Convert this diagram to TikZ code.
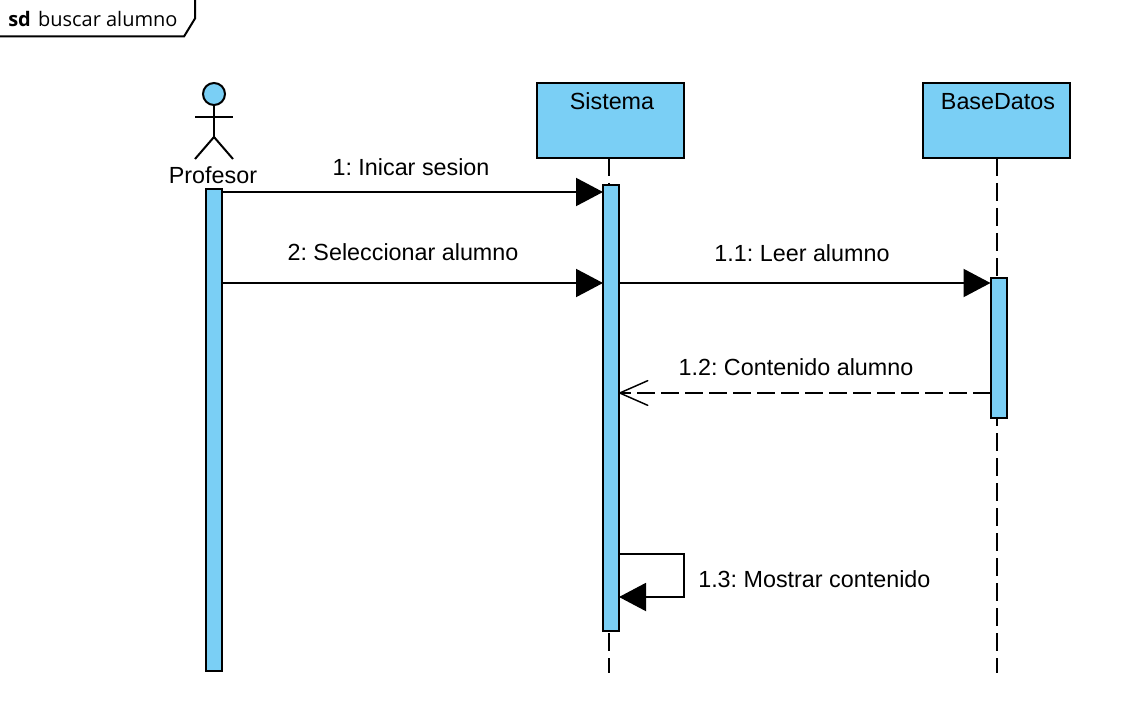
\documentclass[tikz,border=0pt]{standalone}
\usepackage{fontspec}
\setmainfont{Liberation Sans}
\newfontfamily\framefont{Open Sans}
\frenchspacing
\usetikzlibrary{arrows.meta}
\definecolor{umlblue}{RGB}{122,207,245}
\tikzset{
  umlline/.style={line width=1.5pt,black},
  lifebox/.style={draw,umlline,fill=umlblue,minimum width=110.25pt,minimum height=56.25pt,outer sep=0pt,inner sep=0pt},
  actbar/.style={draw,umlline,fill=umlblue,minimum width=12pt,outer sep=0pt,inner sep=0pt},
  lifeline/.style={umlline,dash pattern=on 13.5pt off 5.25pt},
  msg/.style={umlline,-{Triangle[length=20.25pt,width=21pt,fill=black]}},
  reply/.style={umlline,dash pattern=on 13pt off 5pt,-{Straight Barb[length=21pt,width=18.5pt,line width=1.1pt,round=false]}},
  lbl/.style={font=\fontsize{17.5pt}{20pt}\selectfont,inner sep=0pt,anchor=base}
}
\begin{document}
\begin{tikzpicture}[x=0.75pt,y=-0.75pt]
\useasboundingbox (0,0) rectangle (1141,709);
\fill[white] (0,0) rectangle (1141,709);
% frame
\draw[umlline] (-3,36.5) -- (184,36.5) -- (195,18.5) -- (195,-3);
\node[anchor=base west,inner sep=0pt,font=\fontsize{15pt}{18pt}\selectfont\framefont] (frametext) at (8,26.5) {\textbf{sd}\hspace{1.5pt} buscar alumno};
% heads
\node[lifebox] (sistema) at (610.5,120.5) {};
\node[lbl] at (612,110) {Sistema};
\node[lifebox] (base) at (996.5,120.5) {};
\node[lbl] at (998,110) {BaseDatos};
% lifelines
\coordinate (sisend) at (609,673);
\coordinate (baseend) at (997,673);
\draw[lifeline] (609,158) -- (sisend);
\draw[lifeline] (997,158) -- (baseend);
% activation bars
\node[actbar,minimum height=361.5pt] (profbar) at (213.5,430) {};
\node[actbar,minimum height=334.5pt] (sisbar) at (611,408) {};
\node[actbar,minimum height=105pt] (basebar) at (998.5,348) {};
% actor
\node[circle,draw,umlline,fill=umlblue,minimum size=16.5pt,inner sep=0pt,outer sep=0pt] (head) at (214,94) {};
\coordinate (hip) at (214,137);
\coordinate (armL) at (195,117);
\coordinate (armR) at (233,117);
\coordinate (footL) at (195,159);
\coordinate (footR) at (233,159);
\draw[umlline] (head.south) -- (hip);
\draw[umlline] (armL) -- (armR);
\draw[umlline] (footL) -- (hip) -- (footR);
\node[lbl] (actorname) at (213,184) {Profesor};
% messages
\draw[msg] (profbar.east |- 0,192) -- (sisbar.west |- 0,192);
\node[lbl] at (411,176) {1: Inicar sesion};
\draw[msg] (profbar.east |- 0,283) -- (sisbar.west |- 0,283);
\node[lbl] at (403,260) {2: Seleccionar alumno};
\draw[msg] (sisbar.east |- 0,283) -- (basebar.west |- 0,283);
\node[lbl] at (802,262) {1.1: Leer alumno};
\draw[reply] (basebar.west |- 0,393) -- (sisbar.east |- 0,393);
\node[lbl] at (796,375) {1.2: Contenido alumno};
\draw[msg] (sisbar.east |- 0,554) -- (684,554) -- (684,597) -- (sisbar.east |- 0,597);
\node[lbl,anchor=base west] at (698,587) {1.3: Mostrar contenido};
\end{tikzpicture}
\end{document}
